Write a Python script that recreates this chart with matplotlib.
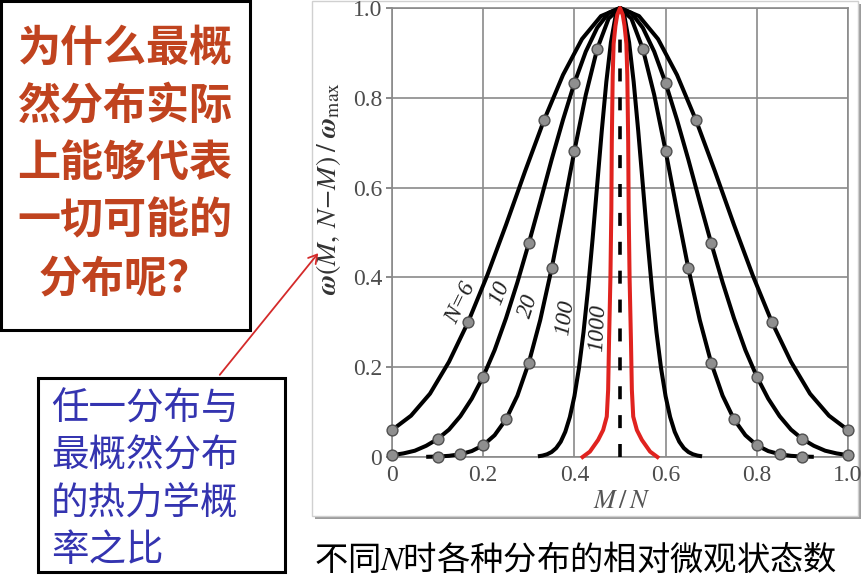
import matplotlib
matplotlib.use("Agg")
import matplotlib.pyplot as plt
from matplotlib.patches import Rectangle, FancyArrowPatch

plt.rcParams['mathtext.fontset'] = 'stix'
plt.rcParams['font.family'] = ['Noto Sans CJK SC', 'DejaVu Sans']

# ---------------- data ----------------
n6_x = [0, 0.0417, 0.0833, 0.125, 0.1667, 0.2083, 0.25, 0.2917, 0.3333, 0.375, 0.4167, 0.4583, 0.5,
        0.5417, 0.5833, 0.625, 0.6667, 0.7083, 0.75, 0.7917, 0.8333, 0.875, 0.9167, 0.9583, 1.0]
n6_y = [0.06, 0.092, 0.141, 0.212, 0.30, 0.403, 0.517, 0.636, 0.75, 0.851, 0.931, 0.982, 1.0,
        0.982, 0.931, 0.851, 0.75, 0.636, 0.517, 0.403, 0.30, 0.212, 0.141, 0.092, 0.06]

n10_x = [0, 0.025, 0.05, 0.075, 0.1, 0.125, 0.15, 0.175, 0.2, 0.225, 0.25, 0.275, 0.3, 0.325, 0.35,
         0.375, 0.4, 0.425, 0.45, 0.475, 0.5, 0.525, 0.55, 0.575, 0.6, 0.625, 0.65, 0.675, 0.7,
         0.725, 0.75, 0.775, 0.8, 0.825, 0.85, 0.875, 0.9, 0.925, 0.95, 0.975, 1.0]
n10_y = [0.004, 0.008, 0.014, 0.025, 0.040, 0.061, 0.091, 0.130, 0.179, 0.238, 0.309, 0.389, 0.476,
         0.568, 0.662, 0.751, 0.833, 0.903, 0.956, 0.989, 1.0, 0.989, 0.956, 0.903, 0.833, 0.751,
         0.662, 0.568, 0.476, 0.389, 0.309, 0.238, 0.179, 0.130, 0.091, 0.061, 0.040, 0.025, 0.014,
         0.008, 0.004]

n20_x = [0.075, 0.1, 0.125, 0.15, 0.175, 0.2, 0.225, 0.25, 0.275, 0.3, 0.325, 0.35, 0.375, 0.4,
         0.425, 0.45, 0.475, 0.5, 0.525, 0.55, 0.575, 0.6, 0.625, 0.65, 0.675, 0.7, 0.725, 0.75,
         0.775, 0.8, 0.825, 0.85, 0.875, 0.9, 0.925]
n20_y = [0.0004, 0.001, 0.0026, 0.0062, 0.0132, 0.0262, 0.0485, 0.0839, 0.1366, 0.2098, 0.3048,
         0.4196, 0.5485, 0.6818, 0.8067, 0.9091, 0.9765, 1.0, 0.9765, 0.9091, 0.8067, 0.6818,
         0.5485, 0.4196, 0.3048, 0.2098, 0.1366, 0.0839, 0.0485, 0.0262, 0.0132, 0.0062, 0.0026,
         0.001, 0.0004]

n100_x = [0.32, 0.33, 0.34, 0.35, 0.36, 0.37, 0.38, 0.39, 0.40, 0.41, 0.42, 0.43, 0.44, 0.45, 0.46,
          0.47, 0.48, 0.49, 0.50, 0.51, 0.52, 0.53, 0.54, 0.55, 0.56, 0.57, 0.58, 0.59, 0.60, 0.61,
          0.62, 0.63, 0.64, 0.65, 0.66, 0.67, 0.68]
n100_y = [0.0015, 0.0031, 0.0060, 0.0111, 0.0198, 0.0340, 0.0561, 0.0889, 0.1353, 0.1979, 0.2780,
          0.3753, 0.4868, 0.6065, 0.7261, 0.8353, 0.9231, 0.9802, 1.0, 0.9802, 0.9231, 0.8353,
          0.7261, 0.6065, 0.4868, 0.3753, 0.2780, 0.1979, 0.1353, 0.0889, 0.0561, 0.0340, 0.0198,
          0.0111, 0.0060, 0.0031, 0.0015]

n1000_x = [0.418, 0.434, 0.452, 0.463, 0.471, 0.474, 0.476, 0.479, 0.481, 0.482, 0.484, 0.486,
           0.490, 0.494, 0.500, 0.506, 0.510, 0.514, 0.516, 0.518, 0.519, 0.521, 0.524, 0.526,
           0.529, 0.537, 0.548, 0.566, 0.582]
n1000_y = [0.0, 0.012, 0.038, 0.06, 0.09, 0.15, 0.26, 0.40, 0.55, 0.70, 0.85, 0.92, 0.96, 0.985,
           1.0, 0.985, 0.96, 0.92, 0.85, 0.70, 0.55, 0.40, 0.26, 0.15, 0.09, 0.06, 0.038, 0.012, 0.0]

dots6_x = [0, 0.1667, 0.3333, 0.6667, 0.8333, 1.0]
dots6_y = [0.06, 0.30, 0.75, 0.75, 0.30, 0.06]
dots10_x = [0, 0.1, 0.2, 0.3, 0.4, 0.6, 0.7, 0.8, 0.9, 1.0]
dots10_y = [0.004, 0.040, 0.179, 0.476, 0.833, 0.833, 0.476, 0.179, 0.040, 0.004]
dots20_x = [0.1, 0.15, 0.2, 0.25, 0.3, 0.35, 0.4, 0.45, 0.55, 0.6, 0.65, 0.7, 0.75, 0.8, 0.85, 0.9]
dots20_y = [0.001, 0.006, 0.026, 0.084, 0.210, 0.420, 0.682, 0.909, 0.909, 0.682, 0.420, 0.210,
            0.084, 0.026, 0.006, 0.001]

curve_labels = ['N=6', '10', '20', '100', '1000']
curve_label_x = [0.150, 0.235, 0.300, 0.380, 0.452]
curve_label_y = [0.343, 0.365, 0.336, 0.310, 0.287]
curve_label_rot = [64, 68, 72, 82, 87]

ticks = [0, 0.2, 0.4, 0.6, 0.8, 1.0]
tick_labels = ['0', '0.2', '0.4', '0.6', '0.8', '1.0']

question_lines = ['为什么最概', '然分布实际', '上能够代表', '一切可能的', '分布呢？']
note_lines = ['任一分布与', '最概然分布', '的热力学概', '率之比']
caption = '不同$N$时各种分布的相对微观状态数'

# ---------------- figure ----------------
W, H = 866, 577
fig = plt.figure(figsize=(W / 100, H / 100), dpi=100)
fig.patch.set_facecolor('white')


def fx(x):
    return x / W


def fy(y):
    return 1 - y / H


def frect(x0, y0, x1, y1, **kw):
    r = Rectangle((fx(x0), fy(y1)), (x1 - x0) / W, (y1 - y0) / H,
                  transform=fig.transFigure, **kw)
    fig.add_artist(r)
    return r


# frame of the chart picture (with shadow)
frect(315, 4, 861, 519, facecolor='#9c9c9c', edgecolor='none', zorder=-3)
frect(312, 1, 858, 516, facecolor='white', edgecolor='#d0d0d0', lw=1.0, zorder=-2)

ax = fig.add_axes([fx(392), fy(457), (848 - 392) / W, (457 - 8) / H])
ax.set_xlim(0, 1)
ax.set_ylim(0, 1)
ax.set_xticks(ticks)
ax.set_yticks(ticks)
ax.set_xticklabels(tick_labels, family='Liberation Serif', fontsize=17, color='#4d4d4d')
ax.set_yticklabels(tick_labels, family='Liberation Serif', fontsize=17, color='#4d4d4d')
ax.tick_params(axis='y', length=4, width=1.2, color='#777777', pad=3)
ax.tick_params(axis='x', length=0, pad=6)
ax.grid(True, color='#8a8a8a', lw=1.2)
ax.set_axisbelow(True)
for s in ax.spines.values():
    s.set_color('#8a8a8a')
    s.set_linewidth(1.2)

lw = 2.9
for xs, ys in [(n6_x, n6_y), (n10_x, n10_y), (n20_x, n20_y), (n100_x, n100_y)]:
    ax.plot(xs, ys, color='black', lw=lw, solid_capstyle='butt', clip_on=False, zorder=3)
ax.plot(n1000_x, n1000_y, color='#e0231f', lw=lw, clip_on=False, zorder=4)
ax.plot([0.5, 0.5], [0.0, 0.95], color='black', lw=2.6, dashes=(3.6, 4.4), zorder=4)

for xs, ys in [(dots6_x, dots6_y), (dots10_x, dots10_y), (dots20_x, dots20_y)]:
    ax.plot(xs, ys, linestyle='none', marker='o', markersize=7.8, markerfacecolor='#8f8f8f',
            markeredgecolor='#505050', markeredgewidth=1.0, clip_on=False, zorder=5)

for t, x, y, r in zip(curve_labels, curve_label_x, curve_label_y, curve_label_rot):
    ax.text(x, y, t, rotation=r, ha='center', va='center', family='Liberation Serif',
            style='italic', fontsize=17, color='#222222', rotation_mode='anchor', zorder=6)

# axis labels
fig.text(fx(328), fy(188), r'$\mathbfit{\omega}(M,\,N\!-\!M)\;/\;\mathbfit{\omega}_{\mathrm{max}}$',
         rotation=90, ha='center', va='center', fontsize=20, color='#333333')
fig.text(fx(622), fy(500), r'$M\,/\,N$', ha='center', va='center', fontsize=19, color='#555555')

# caption
fig.text(fx(314), fy(560), caption, ha='left', va='center', fontsize=24, color='black')

# question box
frect(1, 1, 250, 330, facecolor='white', edgecolor='black', lw=2.2, zorder=1)
for i, line in enumerate(question_lines):
    fig.text(fx(125), fy(48 + 57.5 * i), line, ha='center', va='center', fontsize=31,
             fontweight='bold', color='#c0431f', zorder=2)

# note box
frect(38, 378, 285, 572, facecolor='white', edgecolor='black', lw=2.2, zorder=1)
for i, line in enumerate(note_lines):
    fig.text(fx(51), fy(409 + 47 * i), line, ha='left', va='center', fontsize=27,
             color='#3434b0', zorder=2)

# red arrow
arr = FancyArrowPatch((fx(218), fy(377)), (fx(320), fy(251)), transform=fig.transFigure,
                      arrowstyle='->,head_length=6,head_width=3.5', color='#d42a2a', lw=1.3,
                      zorder=5)
fig.add_artist(arr)

fig.savefig('out.png', dpi=100, facecolor='white')
